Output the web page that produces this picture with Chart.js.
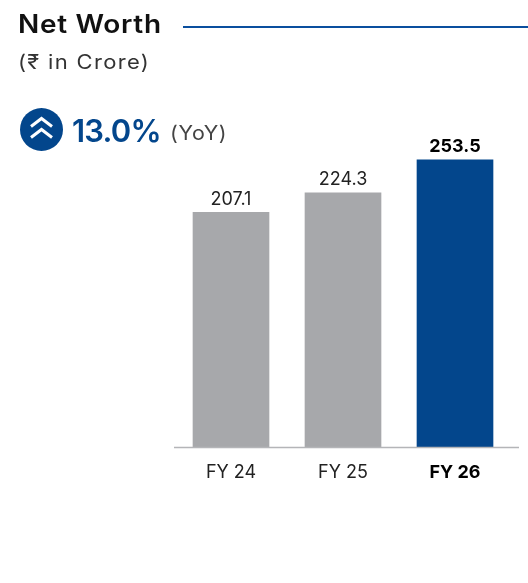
<!DOCTYPE html>
<html>
<head>
<meta charset="utf-8">
<script src="https://cdn.jsdelivr.net/npm/chart.js@4/dist/chart.umd.min.js"></script>
<style>
  body { margin: 0; background: #fff; font-family: Inter, sans-serif; }
  .wrap { position: relative; width: 528px; height: 583px; overflow: hidden; }
  #netWorthChart { position: absolute; left: 0; top: 0; }
  .txt { position: absolute; white-space: nowrap; line-height: 1; transform-origin: left center; }
  .title { left: 18px; top: 12px; font-size: 25px; font-weight: 600; color: #111; letter-spacing: 0.6px; transform: scaleX(1.12); }
  .rule { position: absolute; left: 183px; top: 26px; width: 345px; height: 1.5px; background: #0a4f9e; }
  .unit { left: 18px; top: 52px; font-size: 20px; color: #333; letter-spacing: 1.2px; transform: scaleX(1.1); }
  .pct { left: 72px; top: 115px; font-size: 31px; font-weight: 600; color: #03468c; letter-spacing: -0.8px; }
  .yoy { left: 170px; top: 123px; font-size: 20px; color: #444; letter-spacing: 0.6px; transform: scaleX(1.07); }
  .icon { position: absolute; left: 20px; top: 108px; }
</style>
</head>
<body>
<div class="wrap">
  <canvas id="netWorthChart" width="528" height="583"></canvas>
  <div class="txt title">Net Worth</div>
  <div class="rule"></div>
  <div class="txt unit">(₹ in Crore)</div>
  <svg class="icon" width="43" height="43" viewBox="0 0 43 43">
    <circle cx="21.5" cy="21.5" r="21.5" fill="#03468c"/>
    <path d="M11 18.5 L21.5 10.5 L32 18.5 M11 29.5 L21.5 21.5 L32 29.5" fill="none" stroke="#fff" stroke-width="3"/>
  </svg>
  <div class="txt pct">13.0%</div>
  <div class="txt yoy">(YoY)</div>
</div>
<script>
// Net Worth data
const categories = ["FY 24", "FY 25", "FY 26"];
const netWorth = [207.1, 224.3, 253.5];
const barColors = ["#a7a8ab", "#a7a8ab", "#03468c"];
const labelColors = ["#222", "#222", "#000"];
const labelWeights = ["400", "400", "700"];

// value labels above the bars
const valueLabels = {
  id: "valueLabels",
  afterDatasetsDraw(chart) {
    const ctx = chart.ctx;
    chart.getDatasetMeta(0).data.forEach((bar, i) => {
      ctx.save();
      ctx.font = labelWeights[i] + " 18px Inter, sans-serif";
      ctx.fillStyle = labelColors[i];
      ctx.textAlign = "center";
      ctx.textBaseline = "bottom";
      ctx.fillText(netWorth[i].toFixed(1), bar.x, bar.y - 4);
      ctx.restore();
    });
  }
};

// axis line runs a bit past the last category
const baseLine = {
  id: "baseLine",
  afterDatasetsDraw(chart) {
    const ctx = chart.ctx;
    const y = chart.scales.y.getPixelForValue(0);
    ctx.save();
    ctx.strokeStyle = "#b4b5b8";
    ctx.lineWidth = 1.5;
    ctx.beginPath();
    ctx.moveTo(chart.chartArea.left - 1, y);
    ctx.lineTo(chart.width - 9, y);
    ctx.stroke();
    ctx.restore();
  }
};

new Chart(document.getElementById("netWorthChart"), {
  type: "bar",
  data: {
    labels: categories,
    datasets: [{
      data: netWorth,
      backgroundColor: barColors,
      barThickness: 76
    }]
  },
  options: {
    responsive: false,
    animation: false,
    layout: { padding: { left: 175, right: 17, top: 107, bottom: 94 } },
    plugins: { legend: { display: false }, tooltip: { enabled: false } },
    scales: {
      x: {
        grid: { display: false },
        border: { display: false },
        ticks: {
          padding: 6,
          color: labelColors,
          font: (c) => ({ family: "Inter, sans-serif", size: 18, weight: labelWeights[c.index] })
        }
      },
      y: { display: false, min: 0, max: 300 }
    }
  },
  plugins: [valueLabels, baseLine]
});
</script>
</body>
</html>
